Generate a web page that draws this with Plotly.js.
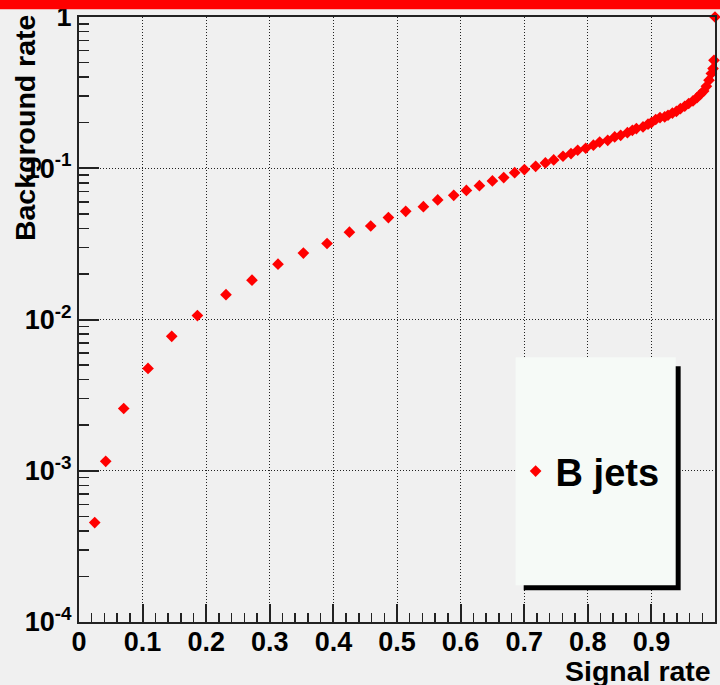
<!DOCTYPE html>
<html>
<head>
<meta charset="utf-8">
<script src="https://cdn.plot.ly/plotly-3.0.1.min.js"></script>
<style>
html,body{margin:0;padding:0;background:#f0f0f0;}
#chart{width:720px;height:685px;}
</style>
</head>
<body>
<div id="chart"></div>
<script>
// Data
var signalRate = [0.0247,0.042,0.0703,0.1085,0.1458,0.1862,0.2311,0.272,0.3129,0.3528,
  0.390,0.4252,0.4587,0.4865,0.5137,0.5415,0.564,0.5892,0.6091,0.6296,
  0.650,0.6678,0.685,0.7003,0.718,0.7333,0.7464,0.761,0.7736,0.7841,
  0.7967,0.8088,0.8187,0.8313,0.8423,0.8517,0.8623,0.8701,0.8764,0.8868,
  0.8947,0.900,0.9068,0.9135,0.9209,0.9261,0.933,0.9393,0.9456,0.9524,
  0.9587,0.9654,0.9717,0.977,0.9822,0.9865,0.9906,0.9943,0.9969,0.9984,1.0];
var backgroundRate = [4.54e-4,1.155e-3,2.58e-3,4.75e-3,7.74e-3,1.062e-2,1.46e-2,1.82e-2,2.32e-2,2.75e-2,
  3.18e-2,3.78e-2,4.15e-2,4.72e-2,5.19e-2,5.57e-2,6.17e-2,6.62e-2,7.14e-2,7.67e-2,
  8.24e-2,8.67e-2,9.35e-2,9.8e-2,0.103,0.1084,0.1135,0.120,0.125,0.1315,
  0.1356,0.142,0.149,0.153,0.161,0.165,0.172,0.178,0.183,0.1875,
  0.1955,0.2005,0.210,0.2163,0.2183,0.224,0.2317,0.2377,0.2477,0.257,
  0.268,0.2787,0.293,0.308,0.324,0.348,0.382,0.423,0.456,0.517,1.0];
var seriesName = 'B jets';
var xTickVals = [0,0.1,0.2,0.3,0.4,0.5,0.6,0.7,0.8,0.9,1];
var xTickText = ['0','0.1','0.2','0.3','0.4','0.5','0.6','0.7','0.8','0.9','1'];
var yTickVals = [1e-4,1e-3,1e-2,1e-1,1];
var yTickText = ['10<sup>-4</sup>','10<sup>-3</sup>','10<sup>-2</sup>','10<sup>-1</sup>','1'];
var yMinorVals = [];
[1e-4,1e-3,1e-2,1e-1].forEach(function(d){ for(var k=2;k<=9;k++) yMinorVals.push(d*k); });

var FONT = 'Liberation Sans, Arial, Helvetica, sans-serif';

var trace = {
  x: signalRate, y: backgroundRate, type: 'scatter', mode: 'markers', name: seriesName,
  cliponaxis: false,
  marker: {symbol: 'diamond', size: 9, color: '#ff0000', line: {width: 0}}
};

var layout = {
  width: 720, height: 685,
  margin: {l: 79, r: 5, t: 17, b: 63, pad: 0},
  paper_bgcolor: '#f0f0f0', plot_bgcolor: '#f0f0f0',
  showlegend: true,
  legend: {
    x: 0.6865, xanchor: 'left', y: 0.249, yanchor: 'middle',
    bgcolor: 'rgba(0,0,0,0)', borderwidth: 0,
    font: {family: FONT, size: 38, weight: 'bold', color: '#000'}
  },
  xaxis: {
    range: [0, 1], type: 'linear',
    tickmode: 'array', tickvals: xTickVals, ticktext: xTickText,
    ticks: 'inside', ticklen: 18, tickwidth: 2, tickcolor: '#222',
    ticklabelstandoff: -5,
    showline: true, linecolor: '#222', linewidth: 2, mirror: true,
    zeroline: false,
    showgrid: true, gridcolor: '#222', gridwidth: 1, griddash: '1px,2px',
    tickfont: {family: FONT, size: 27, weight: 'bold', color: '#000'},
    minor: {dtick: 0.02, tick0: 0, ticks: 'inside', ticklen: 9, tickwidth: 1.5, tickcolor: '#222', showgrid: false}
  },
  yaxis: {
    type: 'log', range: [-4, 0],
    tickmode: 'array', tickvals: yTickVals, ticktext: yTickText,
    ticks: 'inside', ticklen: 20, tickwidth: 2, tickcolor: '#222',
    showline: true, linecolor: '#222', linewidth: 2, mirror: true,
    zeroline: false,
    showgrid: true, gridcolor: '#222', gridwidth: 1, griddash: '1px,2px',
    tickfont: {family: FONT, size: 27, weight: 'bold', color: '#000'},
    minor: {tickmode: 'array', tickvals: yMinorVals, ticks: 'inside', ticklen: 10, tickwidth: 1.5, tickcolor: '#222', showgrid: false}
  },
  shapes: [
    // top red band
    {type: 'rect', xref: 'paper', yref: 'paper', x0: -0.2, x1: 1.1, y0: 1.0127, y1: 1.05,
     fillcolor: '#ff0000', line: {width: 0}, layer: 'above'},
    // legend shadow
    {type: 'rect', xref: 'paper', yref: 'paper', x0: 0.6992, x1: 0.946, y0: 0.0524, y1: 0.4226,
     fillcolor: '#000000', line: {width: 0}, layer: 'above'},
    // legend box
    {type: 'rect', xref: 'paper', yref: 'paper', x0: 0.6866, x1: 0.9382, y0: 0.0607, y1: 0.4375,
     fillcolor: '#f6faf7', line: {width: 0}, layer: 'above'}
  ],
  annotations: [
    {text: 'Background rate', xref: 'paper', yref: 'paper', x: -0.0838, y: 1.006,
     xanchor: 'center', yanchor: 'top', textangle: -90, showarrow: false,
     font: {family: FONT, size: 28.5, weight: 'bold', color: '#000'}},
    {text: 'Signal rate', xref: 'paper', yref: 'paper', x: 0.9964, y: -0.051,
     xanchor: 'right', yanchor: 'top', showarrow: false,
     font: {family: FONT, size: 28.5, weight: 'bold', color: '#000'}}
  ]
};

Plotly.newPlot('chart', [trace], layout, {displayModeBar: false, staticPlot: true});
</script>
</body>
</html>
